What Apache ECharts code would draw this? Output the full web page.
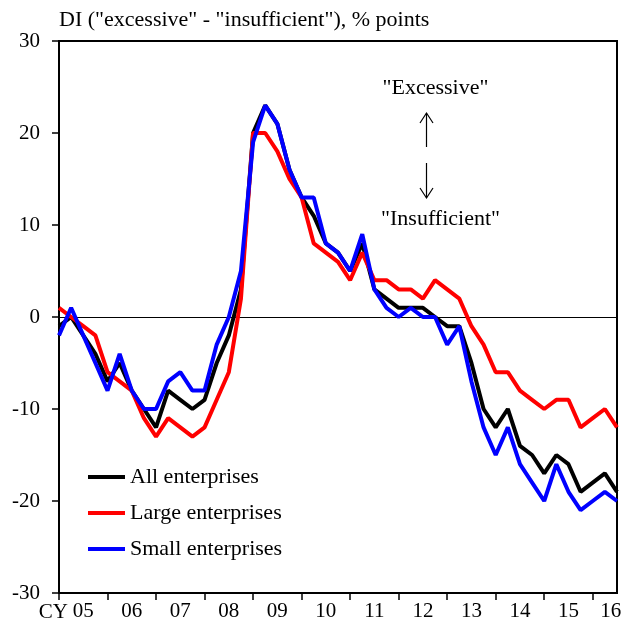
<!DOCTYPE html>
<html>
<head>
<meta charset="utf-8">
<script src="https://cdn.jsdelivr.net/npm/echarts@6/dist/echarts.min.js"></script>
<style>
  html, body { margin: 0; padding: 0; background: #fff; }
  #chart { width: 629px; height: 621px; }
</style>
</head>
<body>
<div id="chart"></div>
<script>
// quarters from CY2005 Q1 to CY2016 Q3
var years = ['05', '06', '07', '08', '09', '10', '11', '12', '13', '14', '15', '16']
var quarters = []
years.forEach(function (y) {
  ['Q1', 'Q2', 'Q3', 'Q4'].forEach(function (q) { quarters.push(y + q) })
})
quarters = quarters.slice(0, 47)

// DI values, % points
var allEnterprises = [-1, 0, -2, -4, -7, -5, -8, -10, -12, -8, -9, -10, -9, -5, -2, 3,
  20, 23, 21, 16, 13, 11, 8, 7, 5, 8, 3, 2, 1, 1, 1, 0,
  -1, -1, -5, -10, -12, -10, -14, -15, -17, -15, -16, -19, -18, -17, -19]
var largeEnterprises = [1, 0, -1, -2, -6, -7, -8, -11, -13, -11, -12, -13, -12, -9, -6, 2,
  20, 20, 18, 15, 13, 8, 7, 6, 4, 7, 4, 4, 3, 3, 2, 4,
  3, 2, -1, -3, -6, -6, -8, -9, -10, -9, -9, -12, -11, -10, -12]
var smallEnterprises = [-2, 1, -2, -5, -8, -4, -8, -10, -10, -7, -6, -8, -8, -3, 0, 5,
  19, 23, 21, 16, 13, 13, 8, 7, 5, 9, 3, 1, 0, 1, 0, 0,
  -3, -1, -7, -12, -15, -12, -16, -18, -20, -16, -19, -21, -20, -19, -20]

var seriesNames = ['All enterprises', 'Large enterprises', 'Small enterprises']
var seriesColors = ['#000000', '#ff0000', '#0000ff']

var serif = '"Liberation Serif", "Times New Roman", serif'

// year label sits in the middle of each year span
function showYearLabel(i) {
  return (i % 4 === 2 && i < 44) || i === 45
}

var chart = echarts.init(document.getElementById('chart'))
var option = {
  animation: false,
  grid: {
    left: 59, right: 12, top: 41, bottom: 28,
    show: true, borderColor: '#000', borderWidth: 2,
    outerBoundsMode: 'none'
  },
  legend: {
    orient: 'vertical',
    left: 83,
    top: 459,
    icon: 'rect',
    itemWidth: 37,
    itemHeight: 4,
    itemGap: 10,
    textStyle: { fontSize: 22, fontFamily: serif, color: '#000', lineHeight: 26 },
    data: seriesNames
  },
  xAxis: [
    {
      type: 'category',
      data: quarters,
      boundaryGap: false,
      axisLine: { onZero: false, lineStyle: { color: '#000', width: 2 } },
      axisTick: {
        length: 7,
        interval: function (i) { return i % 4 === 0 },
        lineStyle: { color: '#000', width: 1.5 }
      },
      axisLabel: {
        interval: showYearLabel,
        formatter: function (v, i) {
          // last (partial) year label sits a bit to the right
          return i === 45 ? '{last|' + v.slice(0, 2) + '}' : v.slice(0, 2)
        },
        rich: {
          last: { padding: [0, 0, 0, 12], fontSize: 21, fontFamily: serif, color: '#000' }
        },
        margin: 8,
        fontSize: 21,
        fontFamily: serif,
        color: '#000'
      },
      splitLine: { show: false }
    },
    {
      // zero line
      type: 'category',
      data: quarters,
      boundaryGap: false,
      position: 'bottom',
      axisLine: { onZero: true, lineStyle: { color: '#000', width: 1 } },
      axisTick: { show: false },
      axisLabel: { show: false },
      splitLine: { show: false }
    }
  ],
  yAxis: {
    type: 'value',
    min: -30,
    max: 30,
    interval: 10,
    axisLine: { show: true, lineStyle: { color: '#000', width: 2 } },
    axisTick: { show: true, length: 7, lineStyle: { color: '#000', width: 1.5 } },
    axisLabel: { margin: 19, fontSize: 21, fontFamily: serif, color: '#000' },
    splitLine: { show: false }
  },
  series: [allEnterprises, largeEnterprises, smallEnterprises].map(function (d, k) {
    return {
      name: seriesNames[k],
      type: 'line',
      data: d,
      symbol: 'none',
      color: seriesColors[k],
      lineStyle: { width: 4, color: seriesColors[k] }
    }
  }),
  graphic: [
    {
      type: 'text', x: 59, y: 20.5,
      style: { text: 'DI ("excessive" - "insufficient"), % points', font: '22px ' + serif, fill: '#000', align: 'left', verticalAlign: 'middle' }
    },
    {
      type: 'text', x: 435.5, y: 88.5,
      style: { text: '"Excessive"', font: '22px ' + serif, fill: '#000', align: 'center', verticalAlign: 'middle' }
    },
    {
      type: 'text', x: 440.5, y: 219,
      style: { text: '"Insufficient"', font: '22px ' + serif, fill: '#000', align: 'center', verticalAlign: 'middle' }
    },
    {
      type: 'text', x: 68, y: 612,
      style: { text: 'CY', font: '21px ' + serif, fill: '#000', align: 'right', verticalAlign: 'middle' }
    },
    // arrows
    { type: 'line', shape: { x1: 426.5, y1: 147, x2: 426.5, y2: 113 }, style: { stroke: '#000', lineWidth: 1.2 } },
    { type: 'polyline', shape: { points: [[420, 123], [426.5, 113], [433, 123]] }, style: { stroke: '#000', lineWidth: 1.2, fill: null } },
    { type: 'line', shape: { x1: 426.5, y1: 163, x2: 426.5, y2: 198 }, style: { stroke: '#000', lineWidth: 1.2 } },
    { type: 'polyline', shape: { points: [[420, 188], [426.5, 198], [433, 188]] }, style: { stroke: '#000', lineWidth: 1.2, fill: null } }
  ]
}
chart.setOption(option)
</script>
</body>
</html>
